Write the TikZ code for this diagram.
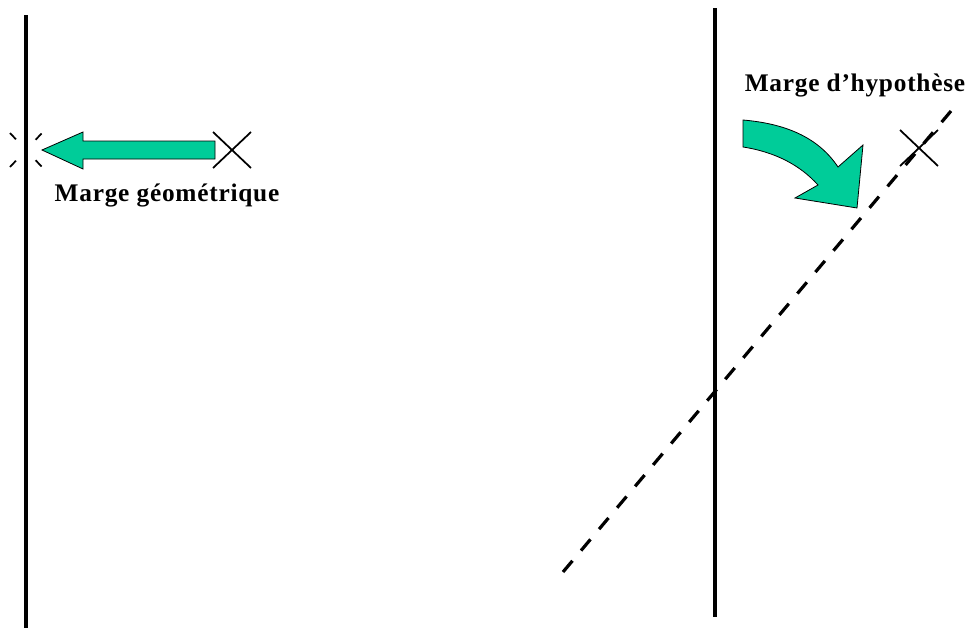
\documentclass[tikz,border=0pt]{standalone}
\usepackage{fontspec}
\setmainfont{Liberation Serif}
\newfontfamily\margefont[LetterSpace=3]{Liberation Serif}
\definecolor{margegreen}{RGB}{0,204,153}

\begin{document}
\begin{tikzpicture}[x=0.75pt,y=-0.75pt,
    wall/.style={line width=2.4pt},
    cross/.style={line width=1.3pt},
    bigarrow/.style={fill=margegreen,draw=black,line width=0.6pt,line join=miter},
    label/.style={font=\margefont\bfseries\fontsize{19}{22}\selectfont,inner sep=0pt}]

    \useasboundingbox (0,0) rectangle (971,628);

    % geometric margin
    \coordinate (wl-top) at (26,15);
    \coordinate (wl-bot) at (26,628);
    \coordinate (pl) at (232,150);
    \coordinate (ql) at (26,150);

    \draw[wall] (wl-top) -- (wl-bot);
    \draw[cross,dash pattern=on 6.5pt off 21.5pt] ([shift={(-16,-17)}]ql) -- ([shift={(16,17)}]ql);
    \draw[cross,dash pattern=on 6.5pt off 21.5pt] ([shift={(-16,17)}]ql) -- ([shift={(16,-17)}]ql);
    \draw[bigarrow] (215,141) -- (83,141) -- (83,132) -- (42,150) -- (83,169)
        -- (83,159) -- (215,159) -- cycle;
    \draw[cross] ([shift={(-19,-18)}]pl) -- ([shift={(19,18)}]pl);
    \draw[cross] ([shift={(-19,18)}]pl) -- ([shift={(19,-18)}]pl);
    \node[label] (geo) at (167,195) {Marge géométrique};

    % hypothesis margin
    \coordinate (wr-top) at (715,8);
    \coordinate (wr-bot) at (715,617);
    \coordinate (dash-a) at (563,572);
    \coordinate (dash-b) at (951,111);
    \coordinate (pr) at (919,148);

    \draw[wall] (wr-top) -- (wr-bot);
    \draw[wall,dash pattern=on 11pt off 10pt] (dash-a) -- (dash-b);
    \draw[cross] ([shift={(-19,-18)}]pr) -- ([shift={(19,18)}]pr);
    \draw[cross] ([shift={(-19,18)}]pr) -- ([shift={(19,-18)}]pr);
    \draw[bigarrow] (743,120) .. controls (790,124) and (820,140) .. (838,167)
        -- (863,145) -- (857,208) -- (795,198) -- (818,185)
        .. controls (800,165) and (775,152) .. (743,147) -- cycle;
    \node[label] (hyp) at (855,85) {Marge d’hypothèse};

\end{tikzpicture}
\end{document}
